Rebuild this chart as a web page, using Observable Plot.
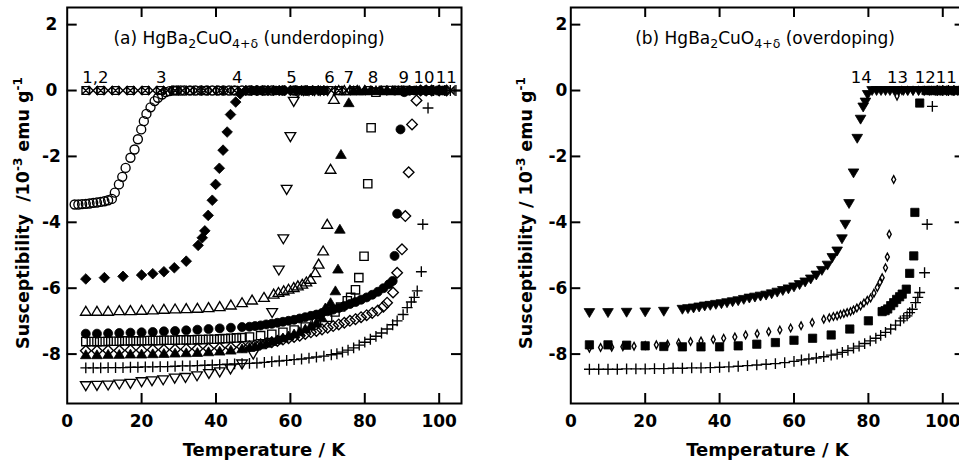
<!DOCTYPE html>
<html><head><meta charset="utf-8">
<script src="https://cdn.jsdelivr.net/npm/d3@7"></script>
<script src="https://cdn.jsdelivr.net/npm/@observablehq/plot@0.6"></script>
<style>
html,body{margin:0;padding:0;background:#fff;overflow:hidden}
#wrap{position:relative;width:959px;height:466px;overflow:hidden;background:#fff}
#wrap svg{position:absolute;top:0}
</style></head><body><div id="wrap"></div>
<script>
// ---------- axis ticks ----------
const xTickValues = [0, 20, 40, 60, 80, 100];
const xTickMarks = [20, 40, 60, 80, 100];
const yTickValues = [-8, -6, -4, -2, 0, 2];
const xDomain = [0, 106];
const yDomain = [-9.5, 2.52];

// ---------- panel (a) underdoping: [T (K), chi (1e-3 emu/g)] ----------
const a1 = [[5,0],[9,0],[13,0],[17,0],[21,0],[25,0],[29,0],[33,0],[37,0],[41,0],[45,0],[49,0],[53,0],[57,0],[61,0],[65,0],[69,0],[73,0],[77,0],[81,0],[85,0],[89,0],[93,0],[97,0],[101,0]];
const a2 = [[7,0],[11,0],[15,0],[19,0],[23,0],[27,0],[31,0],[35,0],[39,0],[43,0],[47,0],[51,0],[55,0],[59,0],[63,0],[67,0],[71,0],[75,0],[79,0],[83,0],[87,0],[91,0],[95,0],[99,0],[103,0]];
const a3 = [[2,-3.46],[3,-3.46],[4,-3.45],[5,-3.44],[6,-3.43],[7,-3.41],[8,-3.4],[9,-3.38],[10,-3.36],[11,-3.33],[12,-3.29],[12.8,-3.1],[13.9,-2.85],[14.8,-2.62],[15.7,-2.35],[17,-2.04],[18.1,-1.79],[19,-1.48],[19.9,-1.18],[20.6,-0.93],[21.3,-0.71],[22.4,-0.51],[23.5,-0.32],[24.4,-0.22],[25.5,-0.12],[26.5,-0.05],[27.5,-0.02],[28.5,0],[29.5,0],[30.5,0],[31.5,0],[33,0],[34.5,0],[36,0],[37.5,0],[39,0],[40.5,0],[42,0],[43.5,0],[45,0],[47,0],[49,0],[51,0],[53,0],[55,0],[58,0],[61,0],[64,0]];
const a4 = [[5,-5.72],[10,-5.68],[15,-5.64],[20,-5.6],[23,-5.56],[26,-5.5],[28.8,-5.38],[32,-5.18],[35.2,-4.7],[36.3,-4.47],[37,-4.26],[37.9,-3.79],[39,-3.33],[39.9,-2.85],[40.9,-2.36],[41.9,-1.81],[43,-1.26],[43.9,-0.73],[45.3,-0.35],[46.5,-0.1],[48,0],[49.5,0],[51,0],[52.5,0],[54,0],[55.5,0],[57,0],[58.5,0],[60,0],[61.5,0],[63,0],[64.5,0],[66,0],[67.5,0],[69,0]];
const a5 = [[5,-8.96],[8,-8.95],[11,-8.94],[14,-8.91],[17,-8.89],[20,-8.84],[22.8,-8.81],[25.8,-8.78],[28.9,-8.73],[31.8,-8.71],[34.9,-8.66],[38.1,-8.59],[41,-8.54],[43.9,-8.45],[47,-8.3],[50,-8.0],[55.1,-6.74],[56.9,-5.45],[58.1,-4.5],[59,-3.0],[60,-1.4],[60.9,-0.33],[62,-0.05],[63.5,0],[65,0],[66.5,0],[68,0],[70,0]];
const a6 = [[5,-6.7],[8,-6.7],[11,-6.7],[14,-6.68],[17,-6.68],[20,-6.67],[23,-6.66],[26,-6.64],[29,-6.63],[32,-6.62],[35,-6.61],[38,-6.59],[41,-6.56],[44,-6.51],[47,-6.44],[49.7,-6.36],[52.9,-6.28],[55.5,-6.18],[56.8,-6.13],[58.2,-6.08],[59.5,-6.03],[60.9,-5.98],[62,-5.93],[63.2,-5.88],[64.3,-5.81],[65.4,-5.73],[66.7,-5.53],[67.6,-5.27],[68.8,-4.87],[69.9,-4.06],[70.8,-2.39],[71.7,-0.27],[73,0],[74.5,0],[76,0],[78,0],[80,0]];
const a7 = [[5,-8.02],[8,-8.02],[11,-8.01],[14,-8.01],[17,-8.0],[20,-8.0],[23,-7.99],[26,-7.98],[29,-7.97],[32,-7.96],[35,-7.95],[38,-7.93],[41,-7.91],[44,-7.88],[47,-7.84],[49,-7.8],[50.5,-7.76],[52,-7.72],[53.5,-7.67],[55,-7.62],[56.5,-7.57],[58,-7.51],[59.5,-7.45],[61,-7.39],[62.5,-7.32],[64,-7.24],[65.5,-7.15],[67,-7.05],[68.5,-6.9],[69.4,-6.6],[70.8,-6.44],[72.1,-6.08],[72.8,-5.42],[73.3,-4.21],[73.6,-1.94],[75.7,-0.37],[77,0],[78.5,0],[80,0],[81.5,0],[83,0],[84.5,0],[86,0],[87.5,0],[89,0],[90.5,0],[92,0]];
const a8 = [[5,-7.62],[6.5,-7.62],[8,-7.62],[9.5,-7.62],[11,-7.61],[12.5,-7.61],[14,-7.61],[15.5,-7.6],[17,-7.6],[18.5,-7.6],[20,-7.6],[21.5,-7.59],[23,-7.59],[24.5,-7.59],[26,-7.58],[27.5,-7.58],[29,-7.58],[30.5,-7.57],[32,-7.57],[33.5,-7.57],[35,-7.56],[36.5,-7.56],[38,-7.55],[39.5,-7.55],[41,-7.54],[42.5,-7.53],[44,-7.52],[45.5,-7.51],[47,-7.5],[49,-7.48],[52,-7.44],[55,-7.4],[58,-7.34],[61,-7.27],[64,-7.18],[67,-7.05],[70,-6.88],[72,-6.72],[73.5,-6.57],[75.3,-6.38],[76.2,-6.28],[77.5,-6.05],[78.4,-5.68],[79.8,-5.03],[80.8,-2.83],[81.7,-1.13],[83,-0.05],[85,0],[87,0],[89,0],[91,0]];
const a9 = [[5,-7.38],[8,-7.38],[11,-7.37],[14,-7.36],[17,-7.35],[20,-7.34],[23,-7.33],[26,-7.31],[29,-7.3],[32,-7.28],[35,-7.26],[38,-7.24],[41,-7.22],[44,-7.2],[47,-7.18],[49,-7.17],[50.5,-7.15],[52,-7.13],[53.5,-7.1],[55,-7.08],[56.5,-7.05],[58,-7.02],[59.5,-6.99],[61,-6.96],[62.5,-6.92],[64,-6.88],[65.5,-6.84],[67,-6.8],[68.5,-6.75],[70,-6.7],[71.5,-6.65],[73,-6.6],[74.5,-6.54],[76,-6.48],[77.5,-6.42],[79,-6.35],[80.5,-6.28],[82,-6.2],[83.5,-6.11],[85,-6.0],[86.5,-5.88],[87.5,-5.78],[88,-5.02],[88.7,-3.74],[89.6,-1.18],[90.6,-0.05],[92,0],[93.5,0],[95,0],[96.5,0],[98,0],[99.5,0],[101,0]];
const a10 = [[5,-7.9],[8,-7.9],[11,-7.89],[14,-7.89],[17,-7.88],[20,-7.88],[23,-7.87],[26,-7.87],[29,-7.86],[32,-7.85],[35,-7.84],[38,-7.83],[41,-7.82],[44,-7.8],[47,-7.78],[49,-7.76],[50.5,-7.73],[52,-7.7],[53.5,-7.67],[55,-7.64],[56.5,-7.6],[58,-7.56],[59.5,-7.52],[61,-7.48],[62.5,-7.44],[64,-7.39],[65.5,-7.34],[67,-7.3],[68.5,-7.25],[70,-7.2],[71.5,-7.15],[73,-7.1],[74.5,-7.05],[76,-6.99],[77.5,-6.94],[79,-6.88],[80.5,-6.82],[82,-6.75],[83.5,-6.68],[85,-6.56],[86,-6.44],[87.6,-6.13],[88.7,-5.53],[90,-4.82],[90.9,-3.81],[91.8,-2.48],[92.7,-1.03],[93.9,-0.3],[95,0],[96.5,0],[98,0],[100,0],[102,0]];
const a11 = [[5,-8.42],[7,-8.42],[9,-8.42],[11,-8.41],[13,-8.41],[15,-8.41],[17,-8.4],[19,-8.4],[21,-8.39],[23,-8.39],[25,-8.38],[27,-8.38],[29,-8.37],[31,-8.36],[33,-8.36],[35,-8.35],[37,-8.34],[39,-8.33],[41,-8.32],[43,-8.31],[45,-8.3],[47,-8.29],[49,-8.28],[51,-8.27],[53,-8.25],[55,-8.23],[57,-8.21],[59,-8.19],[61,-8.17],[63,-8.15],[65,-8.12],[67,-8.09],[69,-8.06],[71,-8.02],[72.5,-7.99],[74,-7.94],[75.5,-7.88],[77,-7.81],[78.5,-7.73],[80,-7.64],[81.5,-7.55],[83,-7.46],[84.5,-7.36],[86,-7.24],[87.5,-7.11],[88.7,-6.99],[90.3,-6.8],[91.4,-6.59],[92.5,-6.42],[93.3,-6.28],[94.1,-6.08],[95.2,-5.5],[95.6,-4.06],[97,-0.53],[98.5,0],[100,0],[101.5,0],[103,0],[104.5,0]];

// ---------- panel (b) overdoping ----------
const b14 = [[5,-6.74],[10,-6.74],[15,-6.73],[20,-6.72],[25,-6.7],[30,-6.64],[31.5,-6.62],[33,-6.6],[34.5,-6.57],[36,-6.54],[37.5,-6.52],[39,-6.49],[40.5,-6.47],[42,-6.44],[43.5,-6.41],[45,-6.38],[46.5,-6.34],[48,-6.3],[49.5,-6.27],[51,-6.24],[52.5,-6.21],[54,-6.17],[55.5,-6.12],[57,-6.07],[58.5,-6.02],[60,-5.96],[61.5,-5.89],[63,-5.81],[64.5,-5.72],[66,-5.6],[67.5,-5.46],[69,-5.3],[70.3,-5.07],[71.6,-4.87],[72.9,-4.5],[73.8,-4.06],[74.8,-3.43],[76,-2.5],[77,-1.45],[77.9,-0.87],[78.6,-0.5],[79.2,-0.35],[79.8,-0.12],[81,0],[82.2,0],[83.4,0],[84.6,0],[85.8,0],[87,0],[88.2,0],[89.4,0],[90.6,0],[92,0],[93.5,0],[95,0],[96.5,0],[98,0],[99.5,0],[101,0],[102.5,0],[104,0]];
const b13 = [[5,-7.82],[8,-7.8],[11,-7.79],[14,-7.78],[17,-7.76],[20,-7.74],[23,-7.72],[26,-7.7],[29,-7.66],[32.2,-7.62],[35,-7.6],[38.3,-7.56],[41.1,-7.52],[44.1,-7.48],[47,-7.42],[50.1,-7.38],[53.2,-7.32],[56.2,-7.27],[59.1,-7.21],[61.9,-7.14],[64.9,-7.04],[68,-6.94],[69.5,-6.9],[70.6,-6.86],[71.6,-6.84],[72.5,-6.8],[73.4,-6.77],[74.3,-6.74],[75.2,-6.71],[76,-6.66],[76.9,-6.6],[77.9,-6.54],[78.8,-6.45],[79.7,-6.37],[80.6,-6.3],[81.5,-6.15],[82.4,-5.98],[83.1,-5.82],[83.7,-5.68],[84.6,-5.38],[85.1,-5.05],[85.6,-4.36],[86.8,-2.7],[87.7,-0.17],[89,0],[90.5,0],[92,0],[93.5,0],[95,0],[97,0],[99,0],[101,0],[103,0],[105,0]];
const b12 = [[5,-7.72],[10,-7.72],[15,-7.73],[20,-7.75],[25,-7.77],[30,-7.78],[35,-7.78],[40,-7.78],[45,-7.75],[50,-7.7],[55,-7.65],[60,-7.58],[65,-7.52],[70,-7.42],[75,-7.24],[80,-6.99],[83.7,-6.71],[84.5,-6.68],[85.2,-6.63],[86,-6.53],[86.8,-6.44],[87.6,-6.34],[88.4,-6.26],[89.1,-6.18],[90.2,-6.03],[91.1,-5.55],[92.2,-5.02],[92.5,-3.7],[93.8,-0.38],[95.5,0],[97,0],[98.5,0],[100,0],[102,0],[104,0]];
const b11 = [[5,-8.46],[7.5,-8.46],[10,-8.46],[12.5,-8.46],[15,-8.45],[17.5,-8.45],[20,-8.45],[22.5,-8.44],[25,-8.44],[27.5,-8.43],[30,-8.43],[32.5,-8.42],[35,-8.42],[37.5,-8.41],[40,-8.4],[42.5,-8.39],[45,-8.37],[47.5,-8.35],[50,-8.33],[52.5,-8.31],[55,-8.29],[57.5,-8.26],[60,-8.22],[62,-8.18],[64,-8.15],[66,-8.12],[68,-8.08],[70,-8.03],[71.6,-8.0],[73,-7.95],[74.5,-7.89],[76,-7.82],[77.5,-7.76],[79,-7.68],[80.5,-7.6],[82,-7.52],[83.3,-7.43],[84.6,-7.34],[86,-7.24],[87.3,-7.12],[88.6,-6.99],[89.5,-6.91],[90.4,-6.84],[91.1,-6.74],[91.8,-6.64],[92.7,-6.44],[93.3,-6.28],[93.8,-6.13],[95.1,-5.53],[95.8,-4.06],[97.2,-0.48],[98.5,0],[100,0],[101.5,0],[103,0],[104.5,0]];

// ---------- sample number labels ----------
const labelsA = ["1,2", "3", "4", "5", "6", "7", "8", "9", "10", "11"];
const labelsAT = [7.6, 25.3, 45.7, 60.3, 70.5, 75.7, 82.2, 90.5, 95.9, 101.9];
const labelsB = ["14", "13", "12", "11"];
const labelsBT = [78.1, 87.8, 95.3, 100.9];

// ---------- marker shapes ----------
function sym(fn) { return {draw(c, size) { fn(c, Math.sqrt(size / Math.PI)); }}; }
const S = {
  circle: sym((c, r) => { c.moveTo(r, 0); c.arc(0, 0, r, 0, 2 * Math.PI); c.closePath(); }),
  triUp: sym((c, r) => { c.moveTo(0, -1.1 * r); c.lineTo(1.18 * r, 0.88 * r); c.lineTo(-1.18 * r, 0.88 * r); c.closePath(); }),
  triDown: sym((c, r) => { c.moveTo(0, 1.1 * r); c.lineTo(1.18 * r, -0.88 * r); c.lineTo(-1.18 * r, -0.88 * r); c.closePath(); }),
  square: sym((c, r) => { c.moveTo(-0.92 * r, -0.92 * r); c.lineTo(0.92 * r, -0.92 * r); c.lineTo(0.92 * r, 0.92 * r); c.lineTo(-0.92 * r, 0.92 * r); c.closePath(); }),
  diamond: sym((c, r) => { c.moveTo(0, -1.18 * r); c.lineTo(1.18 * r, 0); c.lineTo(0, 1.18 * r); c.lineTo(-1.18 * r, 0); c.closePath(); }),
  narrow: sym((c, r) => { c.moveTo(0, -0.85 * r); c.lineTo(0.45 * r, 0); c.lineTo(0, 0.85 * r); c.lineTo(-0.45 * r, 0); c.closePath(); }),
  plus: sym((c, r) => { c.moveTo(-1.2 * r, 0); c.lineTo(1.2 * r, 0); c.moveTo(0, -1.2 * r); c.lineTo(0, 1.2 * r); }),
  boxX: sym((c, r) => { const h = 0.85 * r; c.moveTo(-h, -h); c.lineTo(h, -h); c.lineTo(h, h); c.lineTo(-h, h); c.closePath(); c.moveTo(-h, -h); c.lineTo(h, h); c.moveTo(h, -h); c.lineTo(-h, h); }),
  bowtie: sym((c, r) => { const h = 0.85 * r; c.moveTo(-h, -h); c.lineTo(h, h); c.lineTo(h, -h); c.lineTo(-h, h); c.closePath(); })
};

function dots(data, symbol, filled) {
  return Plot.dot(data, {x: d => d[0], y: d => d[1], symbol, r: 4.5,
    fill: filled ? "black" : "none", stroke: "black", strokeWidth: filled ? 0.8 : 1.35});
}

const FONT = "DejaVu Sans";

function makePanel(opts) {
  const {width, left, right, series, labels, labelT, yDx, yAnchor} = opts;
  const svg = Plot.plot({
    width, height: 466, marginTop: 7, marginBottom: 63, marginLeft: left, marginRight: right,
    x: {domain: xDomain, axis: null}, y: {domain: yDomain, axis: null},
    style: {fontFamily: FONT, background: "transparent", overflow: "visible", color: "black"},
    marks: [
      ...series,
      Plot.frame({stroke: "black", strokeWidth: 2}),
      Plot.ruleX(xTickMarks, {x: d => d, y1: () => yDomain[0], y2: () => yDomain[0], insetTop: -10, stroke: "black", strokeWidth: 2}),
      Plot.ruleX(xTickMarks, {x: d => d, y1: () => yDomain[1], y2: () => yDomain[1], insetBottom: -10, stroke: "black", strokeWidth: 2}),
      Plot.ruleY(yTickValues, {y: d => d, x1: () => xDomain[0], x2: () => xDomain[0], insetRight: -10, stroke: "black", strokeWidth: 2}),
      Plot.ruleY(yTickValues, {y: d => d, x1: () => xDomain[1], x2: () => xDomain[1], insetLeft: -10, stroke: "black", strokeWidth: 2}),
      Plot.text(xTickValues, {x: d => d, text: d => String(d), frameAnchor: "bottom", dy: 11, lineAnchor: "top",
        fontSize: 17, fontWeight: "bold", fill: "black"}),
      Plot.text(yTickValues, {y: d => d, text: d => String(d), frameAnchor: "left", dx: yDx, textAnchor: yAnchor,
        fontSize: 17, fontWeight: "bold", fill: "black"}),
      Plot.text(labels, {x: (d, i) => labelT[i], y: () => 0, text: d => d, dy: -13, fontSize: 16.5, fill: "black"})
    ]
  });
  return svg;
}

function addTexts(svg, o) {
  const s = d3.select(svg);
  const t = s.append("text").attr("x", o.titleX).attr("y", 44).attr("text-anchor", "middle")
    .attr("font-family", FONT).attr("font-size", 17).attr("fill", "black");
  t.append("tspan").text(o.tag + " HgBa");
  t.append("tspan").attr("dy", 4).attr("font-size", 12.5).text("2");
  t.append("tspan").attr("dy", -4).text("CuO");
  t.append("tspan").attr("dy", 4).attr("font-size", 12.5).text("4+δ");
  t.append("tspan").attr("dy", -4).text(" (" + o.kind + ")");

  const yl = s.append("text").attr("transform", `translate(${o.ylabX},213) rotate(-90)`)
    .attr("text-anchor", "middle").attr("font-family", FONT).attr("font-weight", "bold")
    .attr("font-size", 17.5).attr("fill", "black");
  yl.append("tspan").text(o.ylab);
  yl.append("tspan").attr("dy", -7).attr("font-size", 12).text("-3");
  yl.append("tspan").attr("dy", 7).text(" emu g");
  yl.append("tspan").attr("dy", -7).attr("font-size", 12).text("-1");

  s.append("text").attr("x", o.xlabX).attr("y", 456).attr("text-anchor", "middle")
    .attr("font-family", FONT).attr("font-weight", "bold").attr("font-size", 18).attr("fill", "black")
    .text("Temperature / K");
}

const wrap = document.getElementById("wrap");

const svgA = makePanel({
  width: 480, left: 66.7, right: 19,
  series: [
    dots(a1, S.boxX, false), dots(a2, S.bowtie, false), dots(a3, S.circle, false),
    dots(a4, S.diamond, true), dots(a5, S.triDown, false), dots(a6, S.triUp, false),
    dots(a7, S.triUp, true), dots(a8, S.square, false), dots(a9, S.circle, true),
    dots(a10, S.diamond, false), dots(a11, S.plus, false)
  ],
  labels: labelsA, labelT: labelsAT, yDx: -15.7, yAnchor: "middle"
});
svgA.style.left = "0px";
addTexts(svgA, {titleX: 249, tag: "(a)", kind: "underdoping", ylabX: 29, ylab: "Susceptibility  /10", xlabX: 264});
wrap.appendChild(svgA);

const svgB = makePanel({
  width: 500, left: 90.3, right: 15.4,
  series: [
    dots(b14, S.triDown, true), dots(b13, S.narrow, false), dots(b12, S.square, true), dots(b11, S.plus, false)
  ],
  labels: labelsB, labelT: labelsBT, yDx: -3.5, yAnchor: "end"
});
svgB.style.left = "480px";
addTexts(svgB, {titleX: 285, tag: "(b)", kind: "overdoping", ylabX: 52, ylab: "Susceptibility / 10", xlabX: 287.5});
wrap.appendChild(svgB);
</script></body></html>
